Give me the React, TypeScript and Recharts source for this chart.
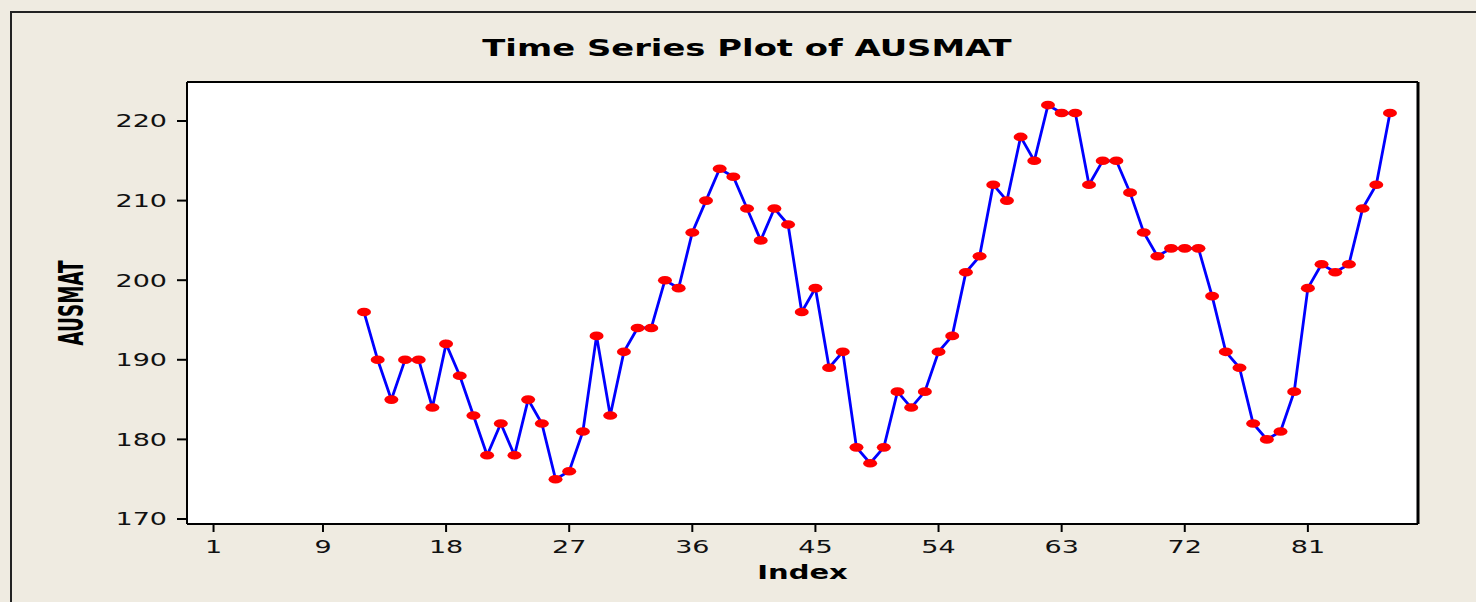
import { LineChart, Line, XAxis, YAxis, CartesianGrid } from 'recharts';

const indexes = [
  12, 13, 14, 15, 16, 17, 18, 19, 20, 21, 22, 23, 24, 25, 26, 27, 28, 29, 30, 31,
  32, 33, 34, 35, 36, 37, 38, 39, 40, 41, 42, 43, 44, 45, 46, 47, 48, 49, 50, 51,
  52, 53, 54, 55, 56, 57, 58, 59, 60, 61, 62, 63, 64, 65, 66, 67, 68, 69, 70, 71,
  72, 73, 74, 75, 76, 77, 78, 79, 80, 81, 82, 83, 84, 85, 86, 87,
];

const ausmat = [
  196, 190, 185, 190, 190, 184, 192, 188, 183, 178, 182, 178, 185, 182, 175, 176, 181, 193, 183, 191,
  194, 194, 200, 199, 206, 210, 214, 213, 209, 205, 209, 207, 196, 199, 189, 191, 179, 177, 179, 186,
  184, 186, 191, 193, 201, 203, 212, 210, 218, 215, 222, 221, 221, 212, 215, 215, 211, 206, 203, 204,
  204, 204, 198, 191, 189, 182, 180, 181, 186, 199, 202, 201, 202, 209, 212, 221,
];

const xTicks = [1, 9, 18, 27, 36, 45, 54, 63, 72, 81];
const yTicks = [170, 180, 190, 200, 210, 220];

const data = indexes.map((idx, i) => ({ index: idx, AUSMAT: ausmat[i] }));

const BG = '#EFEBE1';
const STRETCH = 1.5;
const X_DOMAIN = [-0.94, 89.05];
const Y_DOMAIN = [169.37, 224.9];

const XTick = ({ x, y, payload }: any) => (
  <text
    transform={`translate(${x},${y}) scale(${STRETCH},1)`}
    textAnchor="middle"
    dy={21}
    fontFamily="'DejaVu Sans', Verdana, sans-serif"
    fontSize={18}
    fill="#111"
  >
    {payload.value}
  </text>
);

const YTick = ({ x, y, payload }: any) => (
  <text
    transform={`translate(${x},${y}) scale(${STRETCH},1)`}
    textAnchor="end"
    dy="0.36em"
    fontFamily="'DejaVu Sans', Verdana, sans-serif"
    fontSize={18}
    fill="#111"
  >
    {payload.value}
  </text>
);

const IndexLabel = ({ viewBox }: any) => (
  <text
    transform={`translate(${viewBox.x + viewBox.width / 2},579) scale(1.45,1)`}
    textAnchor="middle"
    fontFamily="'DejaVu Sans', Verdana, sans-serif"
    fontWeight="bold"
    fontSize={20}
    fill="#000"
  >
    Index
  </text>
);

const AusmatLabel = ({ viewBox }: any) => (
  <text
    transform={`translate(83,${viewBox.y + viewBox.height / 2}) scale(${STRETCH},1) rotate(-90)`}
    textAnchor="middle"
    fontFamily="'Liberation Sans Narrow', 'DejaVu Sans Condensed', 'Arial Narrow', sans-serif"
    fontWeight="bold"
    fontSize={22}
    textLength={85}
    lengthAdjust="spacingAndGlyphs"
    fill="#000"
  >
    AUSMAT
  </text>
);

const RedDot = ({ cx, cy, index }: any) => (
  <ellipse key={`d${index}`} cx={cx} cy={cy} rx={7} ry={4.3} fill="#FF0000" />
);

export default function App() {
  return (
    <div
      style={{
        position: 'absolute',
        left: 0,
        top: 0,
        width: 1476,
        height: 602,
        background: BG,
        overflow: 'hidden',
      }}
    >
      <div
        style={{
          position: 'absolute',
          left: 10,
          top: 11,
          width: 1500,
          height: 620,
          borderLeft: '2px solid #222',
          borderTop: '2px solid #222',
        }}
      />
      <div
        style={{
          position: 'absolute',
          left: 747,
          top: 35,
          transform: `translateX(-50%) scaleX(1.47)`,
          fontFamily: "'DejaVu Sans', Verdana, sans-serif",
          fontWeight: 'bold',
          fontSize: 23,
          whiteSpace: 'nowrap',
          color: '#000',
        }}
      >
        Time Series Plot of AUSMAT
      </div>
      <div style={{ position: 'absolute', left: 0, top: 0 }}>
        <LineChart
          width={1476}
          height={602}
          data={data}
          margin={{ top: 72, right: 48, bottom: 18, left: 127 }}
        >
          <CartesianGrid horizontal={false} vertical={false} fill="#FFFFFF" />
          <XAxis
            dataKey="index"
            type="number"
            domain={X_DOMAIN}
            ticks={xTicks}
            allowDataOverflow
            height={60}
            tickSize={8}
            tickMargin={0}
            tick={<XTick />}
            axisLine={{ stroke: '#000', strokeWidth: 2 }}
            tickLine={{ stroke: '#000', strokeWidth: 2 }}
            label={{ content: <IndexLabel /> }}
          />
          <XAxis
            xAxisId="top"
            orientation="top"
            dataKey="index"
            type="number"
            domain={X_DOMAIN}
            allowDataOverflow
            height={10}
            tick={false}
            tickLine={false}
            axisLine={{ stroke: '#000', strokeWidth: 2 }}
          />
          <YAxis
            type="number"
            domain={Y_DOMAIN}
            ticks={yTicks}
            allowDataOverflow
            width={60}
            tickSize={10}
            tickMargin={10}
            tick={<YTick />}
            axisLine={{ stroke: '#000', strokeWidth: 2 }}
            tickLine={{ stroke: '#000', strokeWidth: 2 }}
            label={{ content: <AusmatLabel /> }}
          />
          <YAxis
            yAxisId="right"
            orientation="right"
            type="number"
            domain={Y_DOMAIN}
            allowDataOverflow
            width={10}
            tick={false}
            tickLine={false}
            axisLine={{ stroke: '#000', strokeWidth: 3 }}
          />
          <Line
            type="linear"
            dataKey="AUSMAT"
            stroke="#0000FF"
            strokeWidth={2.8}
            dot={<RedDot />}
            activeDot={false}
            isAnimationActive={false}
          />
        </LineChart>
      </div>
    </div>
  );
}
